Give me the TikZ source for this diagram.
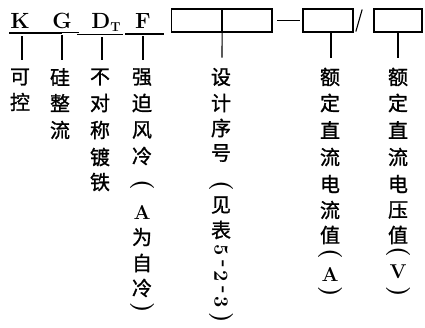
\documentclass[tikz,border=0pt]{standalone}
\usepackage{fontspec}
\usepackage{graphicx}
\newfontfamily\cjk[FakeBold=1.2]{Noto Sans CJK SC}
\newcommand\latc[1]{{\rmfamily\bfseries\fontsize{20}{20}\selectfont #1}}
\newcommand\rotc[1]{\rotatebox[origin=c]{-90}{\latc{#1}}}
\newcommand\rotp[1]{\rotatebox[origin=c]{-90}{\rmfamily\bfseries\fontsize{24}{24}\selectfont #1}}
\tikzset{
  cjkch/.style={font=\cjk\fontsize{20}{20}\selectfont, inner sep=0pt, anchor=center},
  hdr/.style={font=\bfseries\fontsize{22}{22}\selectfont, inner sep=0pt, anchor=base},
  ln/.style={line width=1.1pt, line cap=rect},
  codebox/.style={draw, line width=1.2pt, minimum width=50pt, minimum height=23pt, inner sep=0pt},
}
\begin{document}
\begin{tikzpicture}[x=1pt,y=-1pt]
\useasboundingbox (0,0) rectangle (425,327);
% header letters
\node[hdr] (K) at (20,28) {K};
\node[hdr] (G) at (62,28) {G};
\node[hdr] (D) at (106,28) {D\raisebox{-3pt}{\fontsize{13}{13}\selectfont T}};
\node[hdr] (F) at (143,28) {F};
% underlines
\draw[ln] (10,33) -- (61,33);
\draw[ln] (61,32.5) -- (78,32.5);
\draw[ln] (78,34.5) -- (122,34.5);
\draw[ln] (126,34) -- (163,34);
% boxes
\node[codebox] (b1) at (196.5,20.5) {};
\node[codebox] (b2) at (247,20.5) {};
\node[codebox] (b3) at (328,20.5) {};
\node[codebox, minimum width=48pt] (b4) at (398,20.5) {};
\draw[ln] ([xshift=5pt]b2.east) -- ([xshift=-3pt]b3.west);
\coordinate (s1) at (356,31);
\coordinate (s2) at (362,10);
\draw[ln] (s1) -- (s2);
% columns
\foreach \t/\y [count=\i] in {可/77,控/102}
  \node[cjkch] (c1-\i) at (20,\y) {\t};
\foreach \t/\y [count=\i] in {硅/77,整/103,流/130}
  \node[cjkch] (c2-\i) at (60,\y) {\t};
\foreach \t/\y [count=\i] in {不/77,对/103,称/130,镀/157,铁/182}
  \node[cjkch] (c3-\i) at (100,\y) {\t};
\foreach \t/\y [count=\i] in {强/77,迫/103,风/130,冷/156,{\rotp{(}}/185,{\latc{A}}/212,为/237,自/263,冷/288,{\rotp{)}}/308}
  \node[cjkch] (c4-\i) at (142,\y) {\t};
\foreach \t/\y [count=\i] in {设/77,计/103,序/128,号/153,{\rotp{(}}/186,见/205,表/230,{\rotc{5}}/251,{\rotc{-}}/264.5,{\rotc{2}}/277,{\rotc{-}}/290,{\rotc{3}}/303,{\rotp{)}}/318}
  \node[cjkch] (c5-\i) at (221,\y) {\t};
\foreach \t/\y [count=\i] in {额/77,定/103,直/130,流/157,电/184,流/210,值/235,{\rotp{(}}/254,{\latc{A}}/274,{\rotp{)}}/292}
  \node[cjkch] (c6-\i) at (330,\y) {\t};
\foreach \t/\y [count=\i] in {额/77,定/103,直/130,流/157,电/184,压/210,值/235,{\rotp{(}}/252,{\latc{V}}/272,{\rotp{)}}/292}
  \node[cjkch] (c7-\i) at (398,\y) {\t};
% leader lines
\coordinate (kt) at (22,37);  \coordinate (kb) at (22,59);
\coordinate (gt) at (62,36);  \coordinate (gb) at (62,59);
\coordinate (dt) at (102,38); \coordinate (db) at (102,59);
\coordinate (ft) at (143,37); \coordinate (fb) at (143,59);
\draw[ln] (kt) -- (kb);
\draw[ln] (gt) -- (gb);
\draw[ln] (dt) -- (db);
\draw[ln] (ft) -- (fb);
\coordinate (e5) at (222,57);
\coordinate (e6) at (331,57);
\coordinate (e7) at (398,57);
\draw[ln] (b1.south east) -- (e5);
\draw[ln] (b3.south -| e6) -- (e6);
\draw[ln] (b4.south -| e7) -- (e7);
\end{tikzpicture}
\end{document}
